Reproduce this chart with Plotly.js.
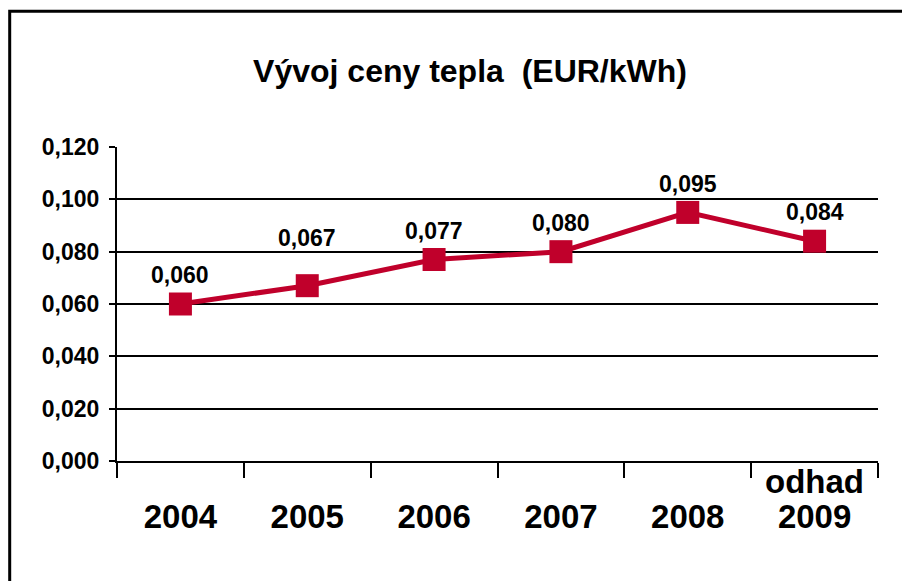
<!DOCTYPE html>
<html>
<head>
<meta charset="utf-8">
<script src="https://cdn.plot.ly/plotly-3.0.1.min.js"></script>
<style>
  html, body { margin: 0; padding: 0; background: #fff; }
  #chart { width: 902px; height: 581px; }
</style>
</head>
<body>
<div id="chart"></div>
<script>
// ---- data ----
const years = ["2004", "2005", "2006", "2007", "2008", "2009"];
const prices = [0.060, 0.067, 0.077, 0.080, 0.095, 0.084];
const tickNotes = ["", "", "", "", "", "odhad"];
const yTicks = [0, 0.02, 0.04, 0.06, 0.08, 0.10, 0.12];
const chartTitle = "Vývoj ceny tepla&nbsp; (EUR/kWh)";

// ---- style / layout constants ----
const W = 902, H = 581;
const M = { l: 117, r: 24, t: 147, b: 120 };
const plotW = W - M.l - M.r, plotH = H - M.t - M.b;
const px2x = p => (p - M.l) / plotW;
const px2y = p => (H - M.b - p) / plotH;
const labelLift = [29, 48, 29, 29, 28, 29]; // px above each marker centre

const FONT = "Liberation Sans, Arial, Helvetica, sans-serif";
const RED = "#C0002B";

const trace = {
  type: "scatter",
  mode: "lines+markers",
  x: years,
  y: prices,
  line: { color: RED, width: 5 },
  marker: { symbol: "square", size: 23, color: RED },
  hoverinfo: "skip",
  cliponaxis: false
};

// category positions (index along the category axis)
const valueLabels = prices.map((v, i) => ({
  text: v.toFixed(3).replace(".", ","),
  x: i,
  y: v,
  xref: "x",
  yref: "y",
  yanchor: "middle",
  xanchor: "center",
  yshift: labelLift[i],
  showarrow: false,
  font: { family: FONT, size: 23, color: "#000", weight: 700 }
}));

const noteLabels = [];
tickNotes.forEach((t, i) => {
  if (!t) return;
  noteLabels.push({
    text: t,
    x: i,
    xref: "x",
    yref: "paper",
    y: px2y(481),
    yanchor: "middle",
    xanchor: "center",
    showarrow: false,
    font: { family: FONT, size: 33, color: "#000", weight: 700 }
  });
});

const layout = {
  width: W,
  height: H,
  margin: M,
  paper_bgcolor: "#fff",
  plot_bgcolor: "#fff",
  separators: ", ",
  showlegend: false,
  title: {
    text: chartTitle,
    font: { family: FONT, size: 32, color: "#000", weight: 700 },
    xref: "container",
    x: 470 / W,
    xanchor: "center",
    yref: "container",
    y: 1 - 71 / H,
    yanchor: "middle"
  },
  xaxis: {
    type: "category",
    range: [-0.5, years.length - 0.5],
    tickson: "boundaries",
    ticks: "outside",
    ticklen: 15,
    tickwidth: 2,
    tickcolor: "#000",
    showline: true,
    linecolor: "#000",
    linewidth: 2,
    showgrid: false,
    zeroline: false,
    fixedrange: true,
    tickfont: { family: FONT, size: 33, color: "#000", weight: 700 },
    ticklabelstandoff: 25
  },
  yaxis: {
    range: [0, 0.12],
    tickvals: yTicks,
    tickformat: ".3f",
    ticks: "outside",
    ticklen: 6,
    tickwidth: 2,
    tickcolor: "#000",
    showline: true,
    linecolor: "#000",
    linewidth: 2,
    showgrid: true,
    gridcolor: "#000",
    gridwidth: 2,
    zeroline: false,
    fixedrange: true,
    tickfont: { family: FONT, size: 23, color: "#000", weight: 700 },
    ticklabelstandoff: 5
  },
  annotations: valueLabels.concat(noteLabels),
  shapes: [
    {
      type: "path",
      xref: "paper", yref: "paper",
      path: "M " + px2x(9.7) + " " + px2y(600) + " L " + px2x(9.7) + " " + px2y(11.3) + " L " + px2x(920) + " " + px2y(11.3),
      line: { color: "#000", width: 3 }
    }
  ]
};

Plotly.newPlot("chart", [trace], layout, { displayModeBar: false, staticPlot: true });
</script>
</body>
</html>
